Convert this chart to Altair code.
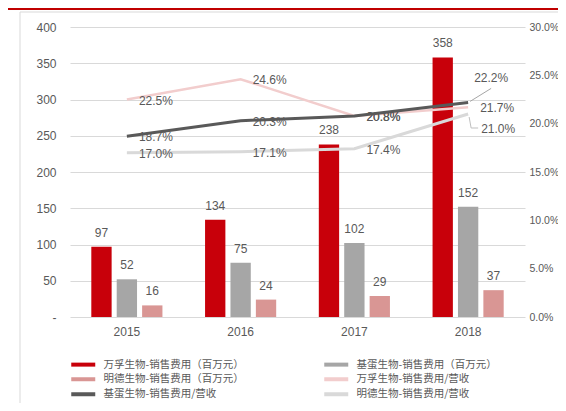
import altair as alt
import pandas as pd

years = ["2015", "2016", "2017", "2018"]
wanfu_cost = [97, 134, 238, 358]
jidan_cost = [52, 75, 102, 152]
mingde_cost = [16, 24, 29, 37]
wanfu_ratio = [22.5, 24.6, 20.8, 21.7]
jidan_ratio = [18.7, 20.3, 20.8, 22.2]
mingde_ratio = [17.0, 17.1, 17.4, 21.0]

bar_names = ["万孚生物-销售费用（百万元）", "基蛋生物-销售费用（百万元）", "明德生物-销售费用（百万元）"]
line_names = ["万孚生物-销售费用/营收", "基蛋生物-销售费用/营收", "明德生物-销售费用/营收"]
bar_colors = ["#C8000A", "#A6A6A6", "#D99694"]
line_colors = ["#F2CDCD", "#595959", "#D9D9D9"]

bars_df = pd.DataFrame([
    {"year": y, "series": n, "value": v}
    for n, vals in zip(bar_names, [wanfu_cost, jidan_cost, mingde_cost])
    for y, v in zip(years, vals)
])
lines_df = pd.DataFrame([
    {"year": y, "series": n, "ratio": v, "label": f"{v:.1f}%"}
    for n, vals in zip(line_names, [wanfu_ratio, jidan_ratio, mingde_ratio])
    for y, v in zip(years, vals)
])
deco_df = pd.DataFrame({"k": [0]})

W, H = 455, 290
TXT = "#595959"
NUMFONT = "Liberation Sans"

x_enc = alt.X(
    "year:N",
    sort=years,
    scale=alt.Scale(paddingInner=0.33, paddingOuter=0.165),
    axis=alt.Axis(title=None, labelAngle=0, ticks=False, domain=False,
                  labelPadding=9, labelFontSize=12, labelColor=TXT, labelFont=NUMFONT),
)
y_left = alt.Y(
    "value:Q",
    scale=alt.Scale(domain=[0, 400]),
    axis=alt.Axis(title=None, values=list(range(0, 401, 50)), ticks=False, domain=False,
                  grid=True, gridColor="#D9D9D9", labelPadding=14, labelFontSize=12,
                  labelColor=TXT, labelFont=NUMFONT,
                  labelExpr="datum.value == 0 ? '-\u00a0\u00a0\u00a0\u00a0' : datum.label"),
)
y_right = alt.Y(
    "ratio:Q",
    scale=alt.Scale(domain=[0, 30]),
    axis=alt.Axis(title=None, orient="right", values=list(range(0, 31, 5)), ticks=False,
                  domain=False, grid=False, labelPadding=4, labelFontSize=10.5,
                  labelColor=TXT, labelFont=NUMFONT,
                  labelExpr="format(datum.value, '.1f') + '%'"),
)

all_names = bar_names + line_names
all_colors = bar_colors + line_colors
legend = alt.Legend(
    title=None, orient="none", legendX=8, legendY=332, columns=2, direction="horizontal",
    columnPadding=72, rowPadding=-2, symbolType="M-4,0H4", symbolSize=36, symbolStrokeWidth=4,
    labelFont="Noto Sans CJK SC", labelFontSize=10.5, labelColor=TXT, labelLimit=0,
    labelOffset=15,
)
stroke_enc = alt.Stroke("series:N", scale=alt.Scale(domain=all_names, range=all_colors), legend=legend)

frame = alt.Chart(deco_df).mark_rect(filled=False, stroke="#D9D9D9", strokeWidth=1).encode(
    x=alt.value(-50), x2=alt.value(700), y=alt.value(-15), y2=alt.value(600)
)
redline = alt.Chart(deco_df).mark_rule(stroke="#C00000", strokeWidth=2).encode(
    x=alt.value(-70), x2=alt.value(700), y=alt.value(-18)
)

bars = alt.Chart(bars_df).mark_bar().encode(
    x=x_enc,
    xOffset=alt.XOffset("series:N", sort=bar_names,
                        scale=alt.Scale(paddingInner=0.2, paddingOuter=0.1)),
    y=y_left,
    color=alt.Color("series:N", scale=alt.Scale(domain=bar_names, range=bar_colors), legend=None),
)
bar_text = alt.Chart(bars_df).mark_text(
    baseline="middle", dy=-14, fontSize=12, color=TXT, font=NUMFONT
).encode(
    x=x_enc,
    xOffset=alt.XOffset("series:N", sort=bar_names),
    y=y_left,
    text=alt.Text("value:Q"),
)

left_group = alt.layer(frame, redline, bars, bar_text)

line_layers = []
for name, w in zip(line_names, [2.5, 3, 3]):
    line_layers.append(
        alt.Chart(lines_df).transform_filter(alt.datum.series == name)
        .mark_line(strokeWidth=w)
        .encode(x=x_enc, y=y_right, stroke=stroke_enc)
    )

special_a = (alt.datum.year == "2018") & (alt.datum.series == line_names[1])
special_b = (alt.datum.year == "2018") & (alt.datum.series == line_names[2])

line_text = alt.Chart(lines_df).transform_filter(
    ~(special_a | special_b)
).mark_text(align="left", baseline="middle", dx=12, dy=1, fontSize=12, color=TXT, font=NUMFONT).encode(
    x=x_enc, y=y_right, text="label:N"
)
text_a = alt.Chart(lines_df).transform_filter(special_a).mark_text(
    align="left", baseline="middle", dx=6, dy=-24, fontSize=12, color=TXT, font=NUMFONT
).encode(x=x_enc, y=y_right, text="label:N")
text_b = alt.Chart(lines_df).transform_filter(special_b).mark_text(
    align="left", baseline="middle", dx=13, dy=15, fontSize=12, color=TXT, font=NUMFONT
).encode(x=x_enc, y=y_right, text="label:N")

lead_a = alt.Chart(lines_df).transform_filter(special_a).mark_rule(
    stroke="#A6A6A6", strokeWidth=1, xOffset=2, yOffset=-1, x2Offset=23, y2Offset=-14
).encode(x=x_enc, x2="year:N", y=y_right, y2="ratio:Q")
lead_b1 = alt.Chart(lines_df).transform_filter(special_b).mark_rule(
    stroke="#BFBFBF", strokeWidth=1, xOffset=1, yOffset=3, x2Offset=3, y2Offset=14
).encode(x=x_enc, x2="year:N", y=y_right, y2="ratio:Q")
lead_b2 = alt.Chart(lines_df).transform_filter(special_b).mark_rule(
    stroke="#BFBFBF", strokeWidth=1, xOffset=3, yOffset=14, x2Offset=10, y2Offset=14
).encode(x=x_enc, x2="year:N", y=y_right, y2="ratio:Q")

right_group = alt.layer(*line_layers, lead_a, lead_b1, lead_b2, line_text, text_a, text_b)

chart = alt.layer(left_group, right_group).resolve_scale(y="independent").properties(
    width=W, height=H,
    autosize=alt.AutoSizeParams(type="none"),
    padding={"left": 62, "top": 19, "right": 550 - 62 - W, "bottom": 86},
).configure_view(stroke=None)

chart.save("out.html", embed_options={"renderer": "svg", "actions": False})
